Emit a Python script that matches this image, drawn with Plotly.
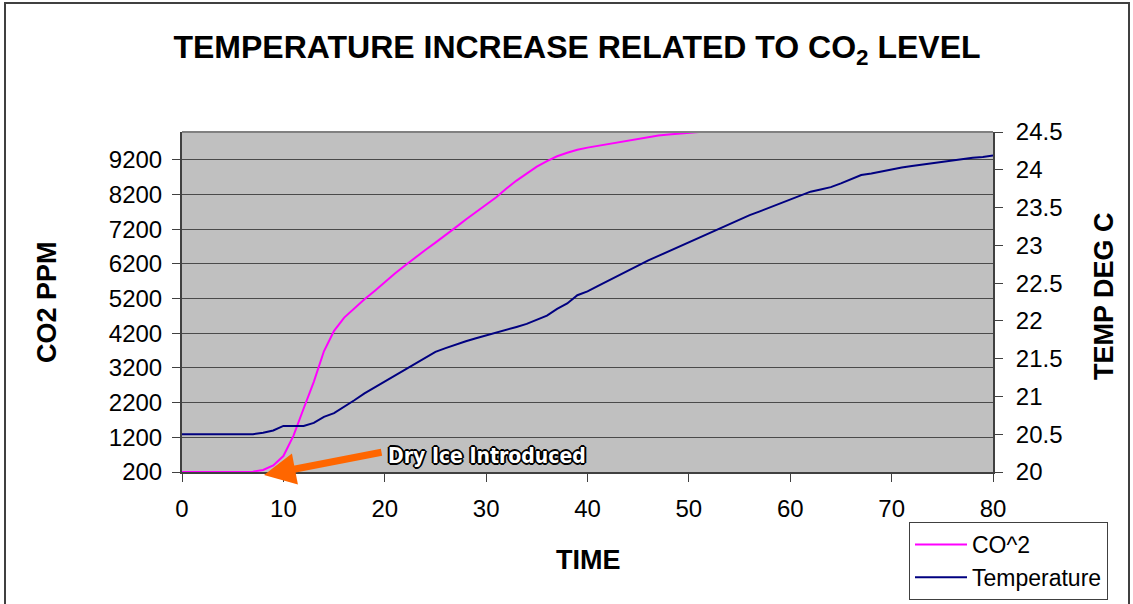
import plotly.graph_objects as go

# ---- data ----
time = list(range(0, 81))

co2_ppm = [200, 200, 200, 200, 200, 200, 200, 210, 260, 390,
           660, 1250, 2030, 2800, 3680, 4270, 4650, 4920, 5180, 5420,
           5680, 5920, 6150, 6380, 6600, 6810, 7020, 7250, 7480, 7700,
           7910, 8120, 8370, 8600, 8800, 9000, 9160, 9300, 9400, 9490,
           9550, 9600, 9650, 9700, 9760, 9820, 9860, 9900, 9930, 9960,
           9980, 10000, 10000, 10000, 10000, 10000, 10000, 10000, 10000, 10000,
           10000, 10000, 10000, 10000, 10000, 10000, 10000, 10000, 10000, 10000,
           10000, 10000, 10000, 10000, 10000, 10000, 10000, 10000, 10000, 10000,
           10000]

temperature = [20.5, 20.5, 20.5, 20.5, 20.5, 20.5, 20.5, 20.5, 20.52, 20.55,
               20.61, 20.61, 20.61, 20.65, 20.73, 20.78, 20.86, 20.95, 21.04, 21.12,
               21.20, 21.28, 21.36, 21.44, 21.51, 21.59, 21.64, 21.69, 21.73, 21.77,
               21.81, 21.84, 21.88, 21.92, 21.96, 22.01, 22.07, 22.16, 22.23, 22.34,
               22.39, 22.46, 22.53, 22.60, 22.67, 22.74, 22.80, 22.86, 22.92, 22.98,
               23.04, 23.10, 23.17, 23.23, 23.29, 23.35, 23.40, 23.45, 23.50, 23.55,
               23.61, 23.66, 23.71, 23.74, 23.77, 23.82, 23.87, 23.93, 23.95, 23.98,
               24.01, 24.03, 24.05, 24.07, 24.09, 24.11, 24.13, 24.14, 24.16, 24.17,
               24.19]

co2_ticks = [200, 1200, 2200, 3200, 4200, 5200, 6200, 7200, 8200, 9200]
temp_ticks = [20, 20.5, 21, 21.5, 22, 22.5, 23, 23.5, 24, 24.5]
time_ticks = [0, 10, 20, 30, 40, 50, 60, 70, 80]

FONT = "Liberation Sans, Arial, sans-serif"
W, H = 1133, 604
L, R, T, B = 182, 140, 132, 132
PW, PH = W - L - R, H - T - B


def px(xpix):
    return (xpix - L) / PW


def py(ypix):
    return (H - B - ypix) / PH


fig = go.Figure()
fig.add_trace(go.Scatter(x=time, y=co2_ppm, name="CO^2", mode="lines",
                         line=dict(color="#FF00FF", width=2), yaxis="y"))
fig.add_trace(go.Scatter(x=time, y=temperature, name="Temperature", mode="lines",
                         line=dict(color="#000080", width=2), yaxis="y2"))

axis_font = dict(family=FONT, size=24, color="black")
title_font = dict(family=FONT, size=27, color="black", weight="bold")

fig.update_layout(
    width=W, height=H,
    margin=dict(l=L, r=R, t=T, b=B, autoexpand=False),
    paper_bgcolor="white",
    plot_bgcolor="#C0C0C0",
    title=dict(text="TEMPERATURE INCREASE RELATED TO CO<sub>2</sub> LEVEL",
               x=577 / W, xanchor="center", xref="container",
               y=1 - 47 / H, yanchor="middle", yref="container",
               font=dict(family=FONT, size=32, color="black", weight="bold")),
    xaxis=dict(range=[0, 80], tickvals=time_ticks, showgrid=False, zeroline=False,
               showline=True, linecolor="#404040", linewidth=2,
               ticks="outside", ticklen=8, tickcolor="#404040", tickwidth=1,
               ticklabelstandoff=6, tickfont=axis_font),
    yaxis=dict(range=[200, 10000], tickvals=co2_ticks, showgrid=True,
               gridcolor="#4a4a4a", gridwidth=1, zeroline=False,
               showline=True, linecolor="#404040", linewidth=2,
               ticks="outside", ticklen=8, tickcolor="#404040", tickwidth=1,
               ticklabelstandoff=5, tickfont=axis_font),
    yaxis2=dict(range=[20, 24.5], tickvals=temp_ticks, overlaying="y", side="right",
                showgrid=False, zeroline=False,
                showline=True, linecolor="#404040", linewidth=2,
                ticks="outside", ticklen=8, tickcolor="#404040", tickwidth=1,
                ticklabelstandoff=8, tickfont=axis_font),
    legend=dict(x=px(909), y=py(522), xanchor="left", yanchor="top",
                bgcolor="white", bordercolor="#404040", borderwidth=1,
                itemwidth=52,
                font=dict(family=FONT, size=23, color="black")),
    showlegend=True,
)

# plot-area top border and outer chart frame
fig.add_shape(type="line", xref="paper", yref="paper", x0=0, x1=1, y0=1, y1=1,
              line=dict(color="#808080", width=2))
fig.add_shape(type="rect", xref="paper", yref="paper",
              x0=px(5), x1=px(1129), y0=py(3), y1=py(640),
              line=dict(color="#404040", width=2), fillcolor="rgba(0,0,0,0)")

# axis titles
fig.add_annotation(text="CO2 PPM", xref="paper", yref="paper", x=px(47), y=py(302),
                   textangle=-90, showarrow=False, font=title_font,
                   xanchor="center", yanchor="middle")
fig.add_annotation(text="TEMP DEG C", xref="paper", yref="paper", x=px(1104), y=py(296),
                   textangle=-90, showarrow=False, font=title_font,
                   xanchor="center", yanchor="middle")
fig.add_annotation(text="TIME", xref="paper", yref="paper", x=px(588), y=py(560),
                   showarrow=False, font=title_font,
                   xanchor="center", yanchor="middle")

# orange arrow + "Dry Ice Introduced"
fig.add_annotation(text="", xref="paper", yref="paper", x=px(264), y=py(475),
                   ax=383 - 264, ay=452 - 475, showarrow=True,
                   arrowhead=2, arrowsize=0.9, arrowwidth=7, arrowcolor="#FF6600",
                   standoff=0, startstandoff=0)
fig.add_annotation(text="Dry Ice Introduced", xref="paper", yref="paper",
                   x=px(487), y=py(456), showarrow=False,
                   xanchor="center", yanchor="middle",
                   font=dict(family="Liberation Sans Narrow, DejaVu Sans Condensed, Arial Narrow, Liberation Sans, sans-serif",
                             size=21, color="white", weight="bold",
                             shadow="-1px -1px 0 #000, 1px -1px 0 #000, -1px 1px 0 #000, 1px 1px 0 #000, 0 1px 0 #000, 0 -1px 0 #000, 1px 0 0 #000, -1px 0 0 #000, 2px 0 0 #000, -2px 0 0 #000, 0 2px 0 #000, 0 -2px 0 #000"))

fig.write_html("out.html")
